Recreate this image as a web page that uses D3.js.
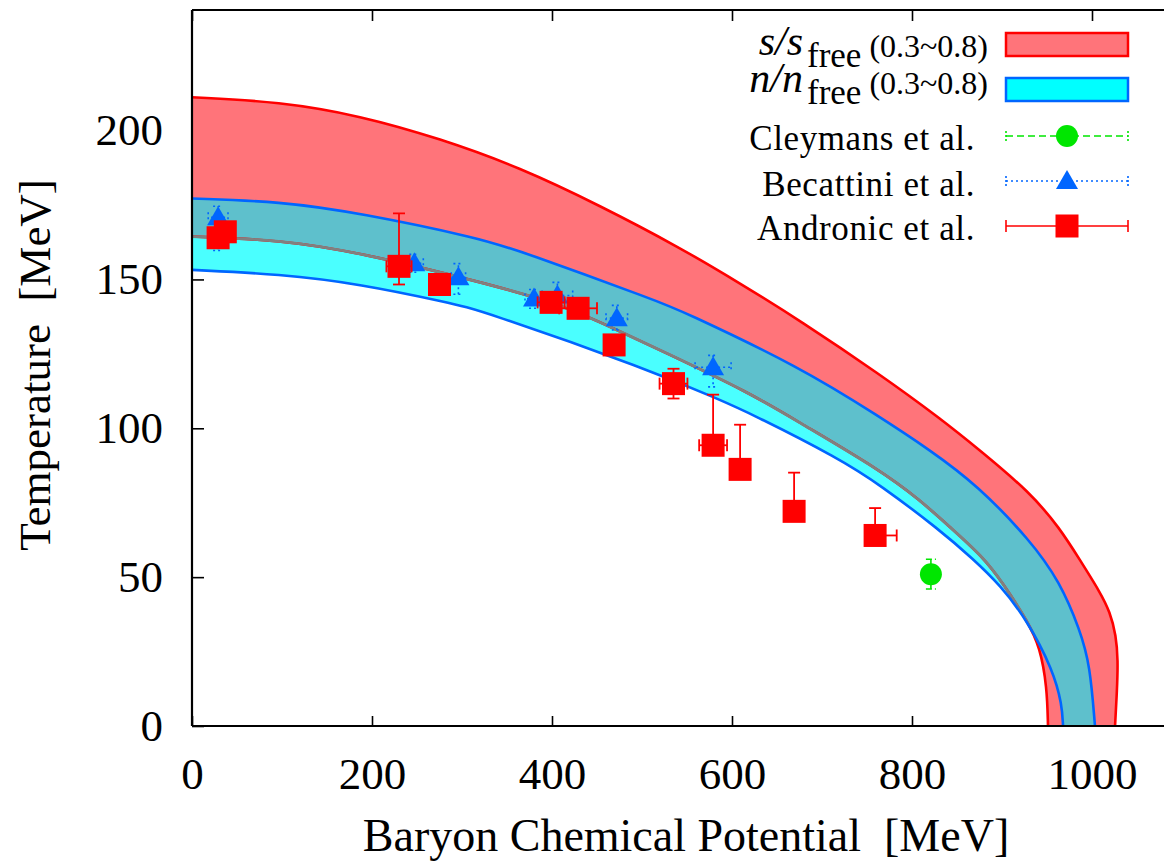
<!DOCTYPE html>
<html><head><meta charset="utf-8">
<script src="https://cdn.jsdelivr.net/npm/d3@7"></script>
<style>body{margin:0;background:#fff}svg{display:block}text,tspan{font-family:"Liberation Serif","Times New Roman",serif}</style>
</head><body><svg id="c" width="1164" height="864"></svg>
<script>
// ---- band boundaries [mu, T] ----
const sUpper = [[0,211.2],[97.8,209.7],[186.7,205],[275.6,197.3],[364.4,187.6],[453.3,174.8],[542.2,160.7],[608.9,148.7],[675.6,136.2],[764.4,118.1],[831.1,103.4],[875.6,92.6],[931.1,78.5],[964.4,66.4],[986.7,55.7],[1008.9,45],[1020,38.3],[1026.7,30.5],[1028.9,22.1],[1027.8,12.1],[1025.6,0]];
const sLower = [[0,164.4],[97.8,163.3],[186.7,159],[320,149.2],[408.9,141.8],[472.2,133],[520,126.3],[620,111.9],[675.6,101.8],[764.4,86],[808.9,75.9],[842.2,66.8],[878.9,56.8],[901.1,48],[928.9,34.9],[942.2,26.5],[950,13.1],[951.1,0]];
const nUpper = [[0,177.2],[97.8,176.2],[186.7,172.3],[320,163.8],[364.4,159.6],[520,142.4],[542.2,139.7],[675.6,120.6],[764.4,103.8],[820,92.7],[872.2,81],[931.1,62.5],[964.4,48.4],[986.7,32.2],[997.8,20.5],[1003.3,0]];
const nLower = [[0,153.2],[97.8,151.8],[186.7,148.5],[286.7,142.1],[320,139.7],[508.9,119.6],[586.7,109.5],[620,105.1],[720,89.7],[764.4,81],[831.1,65.8],[867.8,56.1],[897.8,47.4],[927.8,35.6],[956.7,18.8],[966.7,7.1],[967.8,0]];

// ---- data points ----
const andMu   = [29, 37, 230, 275, 399, 429, 469, 535, 579, 609, 669, 759];
const andT    = [164, 166, 154.4, 148.3, 142.3, 140.3, 128, 115, 94.3, 86.2, 72.1, 64];
const andTHi  = [0, 0, 17.8, 0, 0, 0, 0, 5, 17, 15, 13, 9.2];
const andTLo  = [0, 0, 6.1, 0, 0, 0, 0, 5, 0, 0, 0, 0];
const andMuLo = [0, 0, 14, 0, 15, 21, 0, 15.5, 15.5, 0, 0, 0];
const andMuHi = [0, 0, 14, 0, 15, 21, 0, 15.5, 15.5, 0, 0, 24];

const becMu   = [29, 247, 296, 380, 406, 472, 579];
const becT    = [170.9, 155.4, 150.7, 143.6, 144.6, 137, 120.5];
const becTHi  = [3.7, 3, 4.6, 3, 4.4, 4.3, 4];
const becTLo  = [11.2, 3, 5.7, 3.3, 3, 4, 6.6];
const becMuErr= [11, 10, 8, 10, 17, 12, 20];

const cleyMu = [821];
const cleyT  = [51];
const cleyTErr = [5];

const xTicks = [0, 200, 400, 600, 800, 1000];
const yTicks = [0, 50, 100, 150, 200];

// ---- layout ----
const svg = d3.select("#c");
const FONT = '"Liberation Serif", "Times New Roman", serif';
const L = 192, TOP = 10, B = 726, R = 192 + 1085 * 0.9;
const x = d3.scaleLinear().domain([0, 1085]).range([L, R]);
const y = d3.scaleLinear().domain([0, 240.5]).range([B, TOP]);

const RED = "#ff0000", PINK = "#ff747a", CYAN = "#4affff", TEAL = "#5ec0cc", BLUE = "#0066ff", GRAY = "#808080", GREEN = "#00e600";

const defs = svg.append("defs");
defs.append("clipPath").attr("id", "plotClip").append("rect")
  .attr("x", L).attr("y", TOP).attr("width", R - L).attr("height", B - TOP);

const line = d3.line().x(d => x(d[0])).y(d => y(d[1])).curve(d3.curveBasis);
function band(up, lo) {
  const a = line(up), b = line(lo.slice().reverse());
  return a + "L" + b.slice(1) + "Z";
}
defs.append("clipPath").attr("id", "nClip").append("path").attr("d", band(nUpper, nLower));

// ---- ticks (under the bands) ----
const yAxis = d3.axisLeft(y).tickValues(yTicks).tickSizeInner(-12).tickSizeOuter(0).tickPadding(29).tickFormat(d3.format("d"));
const gy = svg.append("g").attr("transform", `translate(${L},0)`).call(yAxis);
const xAxis = d3.axisBottom(x).tickValues(xTicks).tickSizeInner(-10).tickSizeOuter(0).tickPadding(31).tickFormat(d3.format("d"));
const gx = svg.append("g").attr("transform", `translate(0,${B})`).call(xAxis);
const xTop = d3.axisTop(x).tickValues(xTicks).tickSizeInner(-11).tickSizeOuter(0).tickFormat("");
svg.append("g").attr("transform", `translate(0,${TOP})`).call(xTop);
[gy, gx].forEach(g => {
  g.attr("font-family", FONT);
  g.selectAll("text").style("font-size", "45px").style("font-family", FONT).attr("fill", "#000");
});
svg.selectAll(".domain").remove();
svg.selectAll(".tick line").attr("stroke", "#000").attr("stroke-width", 1.6);

// ---- bands ----
const gb = svg.append("g").attr("clip-path", "url(#plotClip)");
gb.append("path").attr("d", band(sUpper, sLower)).attr("fill", PINK);
gb.append("path").attr("d", band(nUpper, nLower)).attr("fill", CYAN);
gb.append("g").attr("clip-path", "url(#nClip)").append("path").attr("d", band(sUpper, sLower)).attr("fill", TEAL);
gb.append("path").attr("d", line(sUpper)).attr("fill", "none").attr("stroke", RED).attr("stroke-width", 2.6);
gb.append("path").attr("d", line(sLower)).attr("fill", "none").attr("stroke", RED).attr("stroke-width", 2.6);
gb.append("g").attr("clip-path", "url(#nClip)").append("path").attr("d", line(sLower)).attr("fill", "none").attr("stroke", GRAY).attr("stroke-width", 2.8);
gb.append("path").attr("d", line(nUpper)).attr("fill", "none").attr("stroke", BLUE).attr("stroke-width", 2.6);
gb.append("path").attr("d", line(nLower)).attr("fill", "none").attr("stroke", BLUE).attr("stroke-width", 2.6);

// ---- frame ----
const fr = svg.append("g").attr("stroke", "#000").attr("stroke-width", 2.2);
fr.append("line").attr("x1", L).attr("x2", L).attr("y1", TOP).attr("y2", B);
fr.append("line").attr("x1", L).attr("x2", R).attr("y1", B).attr("y2", B);
fr.append("line").attr("x1", L).attr("x2", R).attr("y1", TOP).attr("y2", TOP);
fr.append("line").attr("x1", R).attr("x2", R).attr("y1", TOP).attr("y2", B);

// ---- helpers ----
function errBar(g, x1, y1, x2, y2, color, dash, w) {
  g.append("line").attr("x1", x1).attr("y1", y1).attr("x2", x2).attr("y2", y2)
    .attr("stroke", color).attr("stroke-width", w).attr("stroke-dasharray", dash);
}
function vErr(g, cx, t, hi, lo, color, dash, w, cap) {
  if (hi > 0) { errBar(g, cx, y(t), cx, y(t + hi), color, dash, w); errBar(g, cx - cap, y(t + hi), cx + cap, y(t + hi), color, dash, w); }
  if (lo > 0) { errBar(g, cx, y(t), cx, y(t - lo), color, dash, w); errBar(g, cx - cap, y(t - lo), cx + cap, y(t - lo), color, dash, w); }
}
function hErr(g, mu, cy, lo, hi, color, dash, w, cap) {
  if (hi > 0) { errBar(g, x(mu), cy, x(mu + hi), cy, color, dash, w); errBar(g, x(mu + hi), cy - cap, x(mu + hi), cy + cap, color, dash, w); }
  if (lo > 0) { errBar(g, x(mu), cy, x(mu - lo), cy, color, dash, w); errBar(g, x(mu - lo), cy - cap, x(mu - lo), cy + cap, color, dash, w); }
}
function tri(cx, cy) { return `M${cx},${cy - 11}L${cx + 11},${cy + 8}L${cx - 11},${cy + 8}Z`; }

const gp = svg.append("g").attr("clip-path", "url(#plotClip)");
// Cleymans
cleyMu.forEach((m, i) => {
  vErr(gp, x(m), cleyT[i], cleyTErr[i], cleyTErr[i], GREEN, "6,3", 1.6, 5);
  gp.append("circle").attr("cx", x(m)).attr("cy", y(cleyT[i])).attr("r", 11).attr("fill", GREEN);
});
// Becattini
becMu.forEach((m, i) => {
  vErr(gp, x(m), becT[i], becTHi[i], becTLo[i], BLUE, "2,3", 1.6, 5);
  hErr(gp, m, y(becT[i]), becMuErr[i], becMuErr[i], BLUE, "2,3", 1.6, 5);
  gp.append("path").attr("d", tri(x(m), y(becT[i]))).attr("fill", BLUE);
});
// Andronic
andMu.forEach((m, i) => {
  vErr(gp, x(m), andT[i], andTHi[i], andTLo[i], RED, null, 1.8, 6);
  hErr(gp, m, y(andT[i]), andMuLo[i], andMuHi[i], RED, null, 1.8, 6);
  gp.append("rect").attr("x", x(m) - 11.5).attr("y", y(andT[i]) - 11.5).attr("width", 23).attr("height", 23).attr("fill", RED);
});

// ---- axis titles ----
svg.append("text").attr("x", 686).attr("y", 851).attr("text-anchor", "middle").style("font-size", "46px").style("font-family", FONT)
  .text("Baryon Chemical Potential\u00a0\u00a0[MeV]");
svg.append("text").attr("transform", "translate(50,365) rotate(-90)").attr("text-anchor", "middle").style("font-size", "45px").style("font-family", FONT)
  .text("Temperature\u00a0\u00a0[MeV]");

// ---- legend ----
const lg = svg.append("g");
const LX1 = 1006, LX2 = 1128, LXM = 1067;
function bandLabel(yb, sym) {
  const t = lg.append("text").attr("x", 988).attr("y", yb).attr("text-anchor", "end").style("font-family", FONT);
  t.append("tspan").style("font-family", FONT).style("font-style", "italic").style("font-size", "42px").text(sym + "/" + sym);
  t.append("tspan").style("font-family", FONT).style("font-size", "35px").attr("dx", 4).attr("dy", 12).text("free");
  t.append("tspan").style("font-family", FONT).style("font-size", "32px").attr("dy", -10).text("\u00a0(0.3~0.8)");
}
bandLabel(55, "s");
lg.append("rect").attr("x", LX1).attr("y", 33).attr("width", LX2 - LX1).attr("height", 23).attr("fill", PINK).attr("stroke", RED).attr("stroke-width", 2.5);
bandLabel(92, "n");
lg.append("rect").attr("x", LX1).attr("y", 78).attr("width", LX2 - LX1).attr("height", 23).attr("fill", "#00ffff").attr("stroke", BLUE).attr("stroke-width", 2.5);

const legRows = [
  {label: "Cleymans et al.", yc: 136, yb: 150, color: GREEN, dash: "7,4", cap: 5},
  {label: "Becattini et al.", yc: 181, yb: 196, color: BLUE, dash: "2,3", cap: 5},
  {label: "Andronic et al.", yc: 226, yb: 240, color: RED, dash: null, cap: 6}
];
legRows.forEach((r, i) => {
  lg.append("text").attr("x", 975).attr("y", r.yb).attr("text-anchor", "end").style("font-family", FONT).style("font-size", "35px").style("letter-spacing", "0.6px").text(r.label);
  errBar(lg, LX1, r.yc, LX2, r.yc, r.color, r.dash, 1.6);
  errBar(lg, LX1, r.yc - r.cap, LX1, r.yc + r.cap, r.color, r.dash ? "2,2" : null, 1.6);
  errBar(lg, LX2, r.yc - r.cap, LX2, r.yc + r.cap, r.color, r.dash ? "2,2" : null, 1.6);
  if (i === 0) lg.append("circle").attr("cx", LXM).attr("cy", r.yc).attr("r", 11).attr("fill", GREEN);
  if (i === 1) lg.append("path").attr("d", tri(LXM, r.yc)).attr("fill", BLUE);
  if (i === 2) lg.append("rect").attr("x", LXM - 11.5).attr("y", r.yc - 11.5).attr("width", 23).attr("height", 23).attr("fill", RED);
});
</script></body></html>
